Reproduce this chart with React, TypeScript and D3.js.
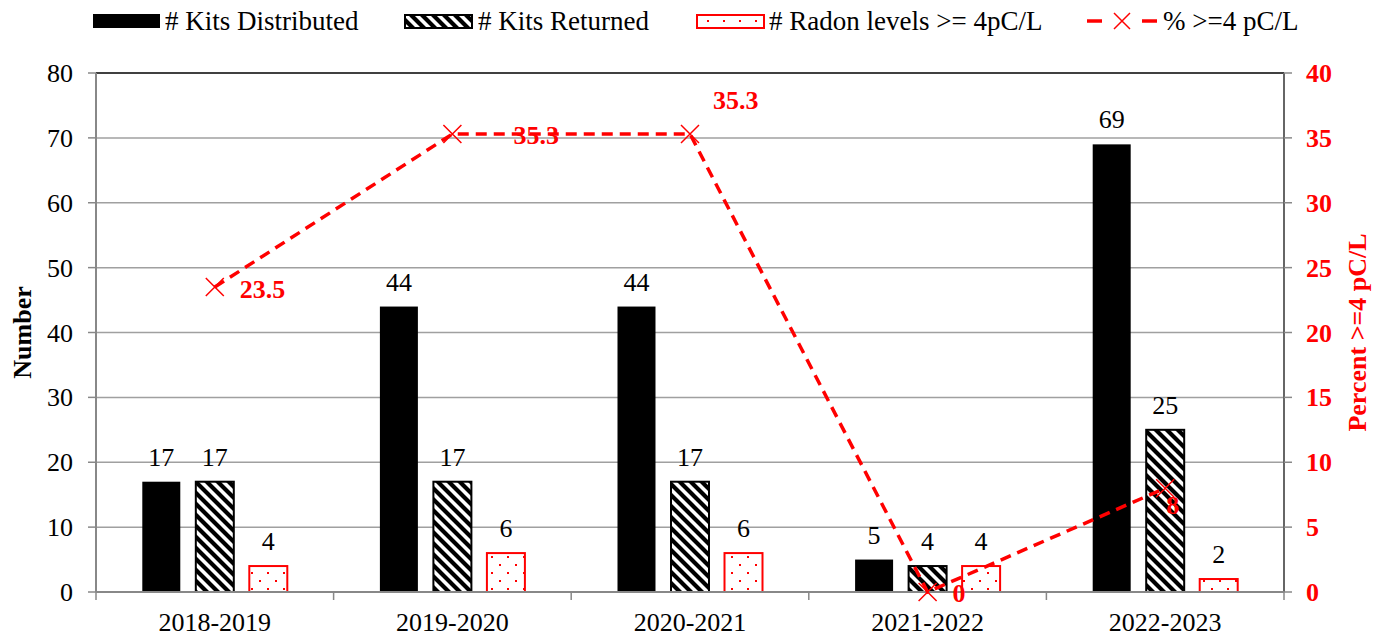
import React from "react";
import * as d3 from "d3";

const categories = ["2018-2019", "2019-2020", "2020-2021", "2021-2022", "2022-2023"];
const kitsDistributed = [17, 44, 44, 5, 69];
const kitsReturned = [17, 17, 17, 4, 25];
const radonHigh = [4, 6, 6, 4, 2];
const percentHigh = [23.5, 35.3, 35.3, 0, 8];
const leftTicks = [0, 10, 20, 30, 40, 50, 60, 70, 80];
const rightTicks = [0, 5, 10, 15, 20, 25, 30, 35, 40];
const seriesNames = ["# Kits Distributed", "# Kits Returned", "# Radon levels >= 4pC/L"];
const lineName = "% >=4 pC/L";

// label offsets for the percent data labels (style/layout, not data)
const pctLabelOffsets = [
  [25, 2],
  [61, 1],
  [23, -34],
  [25, 1],
  [1, 17],
];

const W = 1385;
const H = 637;
const M = { left: 96, right: 1284, top: 73, bottom: 592 };
const FONT = "'Liberation Serif', 'Times New Roman', serif";
const RED = "#ff0000";
const FS = 26;

export default function App() {
  const x = d3.scaleBand<string>().domain(categories).range([M.left, M.right]).padding(0);
  const inner = d3
    .scaleBand<number>()
    .domain([0, 1, 2])
    .range([-72.5, 72.5])
    .paddingInner(0.29)
    .paddingOuter(0);
  const yL = d3.scaleLinear().domain([0, 80]).range([M.bottom, M.top]);
  const yR = d3.scaleLinear().domain([0, 40]).range([M.bottom, M.top]);

  const seriesData = [kitsDistributed, kitsReturned, radonHigh];
  const fills = ["#000", "url(#hatch)", "url(#dots)"];
  const strokes = ["#000", "#000", RED];

  const cx = (c: string) => (x(c) as number) + x.bandwidth() / 2;

  const line = d3
    .line<number>()
    .x((_, i) => cx(categories[i]))
    .y((d) => yR(d));

  const markerPath = (px: number, py: number, s = 9) =>
    `M${px - s},${py - s}L${px + s},${py + s}M${px - s},${py + s}L${px + s},${py - s}`;

  const boundaries = d3.range(categories.length + 1).map((i) => M.left + i * x.bandwidth());

  return (
    <svg width={W} height={H} style={{ position: "absolute", left: 0, top: 0, background: "#fff" }} fontFamily={FONT}>
      <defs>
        <pattern id="hatch" patternUnits="userSpaceOnUse" width="11" height="11">
          <rect width="11" height="11" fill="#fff" />
          <path d="M-3,8 L3,14 M-3,-3 L14,14 M8,-3 L14,3" stroke="#000" strokeWidth="4.2" />
        </pattern>
        <pattern id="dots" patternUnits="userSpaceOnUse" width="16" height="16">
          <rect width="16" height="16" fill="#fff" />
          <rect x="3" y="4" width="2" height="2" fill={RED} />
          <rect x="11" y="12" width="2" height="2" fill={RED} />
        </pattern>
      </defs>

      {/* gridlines */}
      {leftTicks.slice(1, -1).map((t) => (
        <line key={t} x1={M.left} x2={M.right} y1={yL(t)} y2={yL(t)} stroke="#a0a0a0" strokeWidth={1.5} />
      ))}
      {/* top border */}
      <line x1={M.left} x2={M.right} y1={M.top} y2={M.top} stroke="#000" strokeWidth={1.5} />

      {/* left axis */}
      <line x1={M.left} x2={M.left} y1={M.top} y2={M.bottom} stroke="#888" strokeWidth={2} />
      {leftTicks.map((t) => (
        <g key={t}>
          <line x1={M.left - 8} x2={M.left} y1={yL(t)} y2={yL(t)} stroke="#888" strokeWidth={1.5} />
          <text x={73} y={yL(t)} dy="0.35em" textAnchor="end" fontSize={FS} fill="#000">
            {t}
          </text>
        </g>
      ))}
      {/* right axis */}
      <line x1={M.right} x2={M.right} y1={M.top} y2={M.bottom} stroke="#666" strokeWidth={2} />
      {rightTicks.map((t) => (
        <g key={t}>
          <line x1={M.right} x2={M.right + 8} y1={yR(t)} y2={yR(t)} stroke="#888" strokeWidth={1.5} />
          <text x={1306} y={yR(t)} dy="0.35em" textAnchor="start" fontSize={FS} fontWeight="bold" fill={RED}>
            {t}
          </text>
        </g>
      ))}

      {/* bars */}
      {seriesData.map((vals, s) =>
        vals.map((v, i) => {
          const bx = cx(categories[i]) + (inner(s) as number);
          const by = yL(v);
          return (
            <g key={`${s}-${i}`}>
              <rect
                x={bx}
                y={by}
                width={inner.bandwidth()}
                height={yL(0) - by}
                fill={fills[s]}
                stroke={strokes[s]}
                strokeWidth={s === 0 ? 0 : 2}
              />
              <text x={bx + inner.bandwidth() / 2} y={by - 16} textAnchor="middle" fontSize={FS} fill="#000">
                {v}
              </text>
            </g>
          );
        })
      )}

      {/* x axis */}
      <line x1={M.left} x2={M.right} y1={M.bottom} y2={M.bottom} stroke="#888" strokeWidth={2} />
      {boundaries.map((b, i) => (
        <line key={i} x1={b} x2={b} y1={M.bottom} y2={M.bottom + 8} stroke="#888" strokeWidth={1.5} />
      ))}
      {categories.map((c) => (
        <text key={c} x={cx(c)} y={631} textAnchor="middle" fontSize={FS} fill="#000">
          {c}
        </text>
      ))}

      {/* line series */}
      <path d={line(percentHigh) || ""} fill="none" stroke={RED} strokeWidth={3.5} strokeDasharray="11,7" />
      {percentHigh.map((v, i) => (
        <path key={i} d={markerPath(cx(categories[i]), yR(v))} stroke={RED} strokeWidth={1.5} fill="none" />
      ))}
      {percentHigh.map((v, i) => (
        <text
          key={i}
          x={cx(categories[i]) + pctLabelOffsets[i][0]}
          y={yR(v) + pctLabelOffsets[i][1]}
          dy="0.35em"
          fontSize={FS}
          fontWeight="bold"
          fill={RED}
        >
          {v}
        </text>
      ))}

      {/* axis titles */}
      <text
        transform={`translate(31,${(M.top + M.bottom) / 2}) rotate(-90)`}
        textAnchor="middle"
        fontSize={FS}
        fontWeight="bold"
        fill="#000"
      >
        Number
      </text>
      <text
        transform={`translate(1366,${(M.top + M.bottom) / 2}) rotate(-90)`}
        textAnchor="middle"
        fontSize={FS}
        fontWeight="bold"
        fill={RED}
      >
        Percent &gt;=4 pC/L
      </text>

      {/* legend */}
      <g>
        <rect x={93} y={14} width={67} height={14} fill="#000" />
        <text x={165} y={30} fontSize={27}>{seriesNames[0]}</text>
        <rect x={405} y={15} width={67} height={13} fill="url(#hatch)" stroke="#000" strokeWidth={2} />
        <text x={478} y={30} fontSize={27}>{seriesNames[1]}</text>
        <rect x={697} y={15} width={67} height={13} fill="url(#dots)" stroke={RED} strokeWidth={2} />
        <text x={769} y={30} fontSize={27}>{seriesNames[2]}</text>
        <line x1={1087} x2={1102} y1={21} y2={21} stroke={RED} strokeWidth={3.5} />
        <path d={markerPath(1122, 21, 8)} stroke={RED} strokeWidth={1.5} fill="none" />
        <line x1={1142} x2={1157} y1={21} y2={21} stroke={RED} strokeWidth={3.5} />
        <text x={1163} y={30} fontSize={27}>{lineName}</text>
      </g>
    </svg>
  );
}
